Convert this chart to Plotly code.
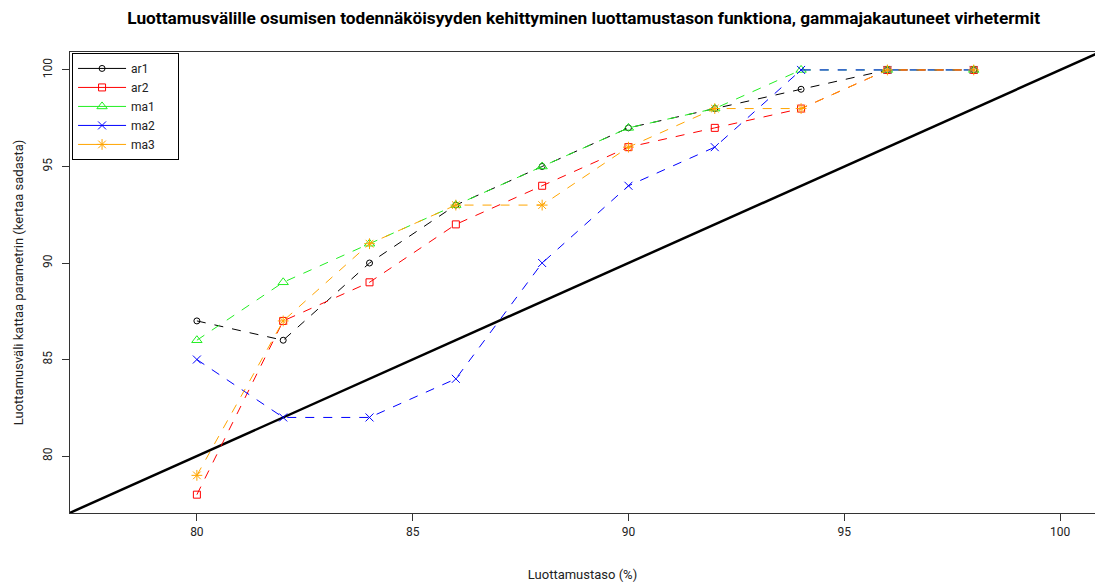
import plotly.graph_objects as go

x = [80, 82, 84, 86, 88, 90, 92, 94, 96, 98]
ar1 = [87, 86, 90, 93, 95, 97, 98, 99, 100, 100]
ar2 = [78, 87, 89, 92, 94, 96, 97, 98, 100, 100]
ma1 = [86, 89, 91, 93, 95, 97, 98, 100, 100, 100]
ma2 = [85, 82, 82, 84, 90, 94, 96, 100, 100, 100]
ma3 = [79, 87, 91, 93, 93, 96, 98, 98, 100, 100]
diag = [70, 110]

series = [
    ("ar1", ar1, "black", "circle-open", 6),
    ("ar2", ar2, "red", "square-open", 7),
    ("ma1", ma1, "#22ee22", "triangle-up-open", 9),
    ("ma2", ma2, "blue", "x-thin-open", 8),
    ("ma3", ma3, "orange", "asterisk-open", 9),
]

fig = go.Figure()
fig.add_trace(go.Scatter(x=diag, y=diag, mode="lines", line=dict(color="black", width=2.5),
                         showlegend=False, hoverinfo="skip"))
for name, ys, col, sym, sz in series:
    fig.add_trace(go.Scatter(x=x, y=ys, name=name, mode="lines+markers", showlegend=False,
                             line=dict(color=col, width=1, dash="dash"),
                             marker=dict(symbol=sym, size=sz, color=col, line=dict(color=col, width=1))))
# legend entries (solid sample lines as in the reference legend)
pad = "\u00a0" * 6
for name, ys, col, sym, sz in series:
    fig.add_trace(go.Scatter(x=[None], y=[None], name=name + pad, mode="lines+markers",
                             line=dict(color=col, width=1),
                             marker=dict(symbol=sym, size=sz, color=col, line=dict(color=col, width=1))))

axis_common = dict(showgrid=False, zeroline=False, showline=True, linecolor="#333", linewidth=1.2,
                   ticks="outside", ticklen=7, tickcolor="#333", automargin=False,
                   tickfont=dict(size=12, color="#222", family="Roboto"))
fig.update_layout(
    width=1095, height=583,
    margin=dict(l=70, r=0, t=52, b=70),
    plot_bgcolor="white", paper_bgcolor="white",
    title=dict(text="<b>Luottamusvälille osumisen todennäköisyyden kehittyminen luottamustason funktiona, gammajakautuneet virhetermit</b>",
               x=0.533, xanchor="center", y=0.98, yanchor="top",
               font=dict(size=17.3, color="black", family="Roboto")),
    xaxis=dict(range=[77.06, 100.81], tickvals=[80, 85, 90, 95, 100], mirror=True,
               title=dict(text="Luottamustaso (%)", font=dict(size=13, color="#222", family="Roboto"), standoff=32),
               **axis_common),
    yaxis=dict(range=[77.05, 100.93], tickvals=[80, 85, 90, 95, 100], mirror=False, tickangle=-90,
               ticklabelstandoff=5,
               title=dict(text="Luottamusväli kattaa parametrin (kertaa sadasta)", font=dict(size=13, color="#222", family="Roboto"), standoff=14),
               **axis_common),
    legend=dict(x=0.002, y=0.998, xanchor="left", yanchor="top", bgcolor="white",
                bordercolor="black", borderwidth=1, font=dict(size=12, color="#222", family="Roboto"),
                tracegroupgap=0, itemwidth=48),
    showlegend=True,
)
fig.write_html("out.html", config={"displayModeBar": False},
               post_script="document.body.style.margin='0';document.body.style.overflow='hidden';")
